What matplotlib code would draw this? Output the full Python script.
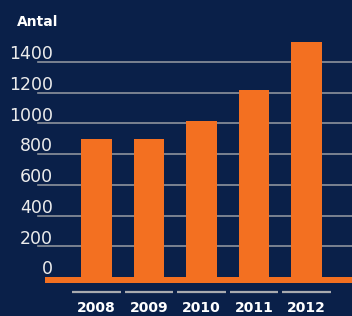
import matplotlib.pyplot as plt

years = ['2008', '2009', '2010', '2011', '2012']
antal = [900, 900, 1015, 1220, 1530]
yticks = [0, 200, 400, 600, 800, 1000, 1200, 1400]

bg = '#0a2049'
orange = '#f37021'

fig = plt.figure(figsize=(3.52, 3.16), dpi=100, facecolor=bg)
ax = fig.add_axes([0, 0, 1, 1])
ax.set_facecolor(bg)
ax.axis('off')

# 52.5 px per category, 0.1536 px per unit
ax.set_xlim(-96.5 / 52.5, (352 - 96.5) / 52.5)
ax.set_ylim(-(316 - 277) / 0.1536, 277 / 0.1536)

x = range(len(years))

# gridlines + labels (0 line is hidden under the orange base)
for v in yticks:
    if v > 0:
        ax.axhline(v, xmin=38 / 352, xmax=1, color='#8e939c', lw=1.2, zorder=1)
    ax.annotate(str(v), xy=(-0.829, v), xytext=(0, 2), textcoords='offset points',
                ha='right', va='baseline', color='#ececec', fontsize=12.5)

ax.bar(x, antal, width=0.59, color=orange, zorder=2)

# orange base
ax.axhspan(-39, 0, xmin=45 / 352, xmax=1, color=orange, zorder=3, lw=0)

for i, y in enumerate(years):
    ax.plot([i - 0.465, i + 0.465], [-100, -100], color='#a9abaf', lw=1.6,
            solid_capstyle='butt')
    ax.text(i, -205, y, ha='center', va='center', color='white',
            fontsize=10, fontweight='bold')

fig.text(17 / 352, 1 - 26 / 316, 'Antal', ha='left', va='baseline',
         color='white', fontsize=10, fontweight='bold')

fig.savefig('out.png', dpi=100, facecolor=bg)
